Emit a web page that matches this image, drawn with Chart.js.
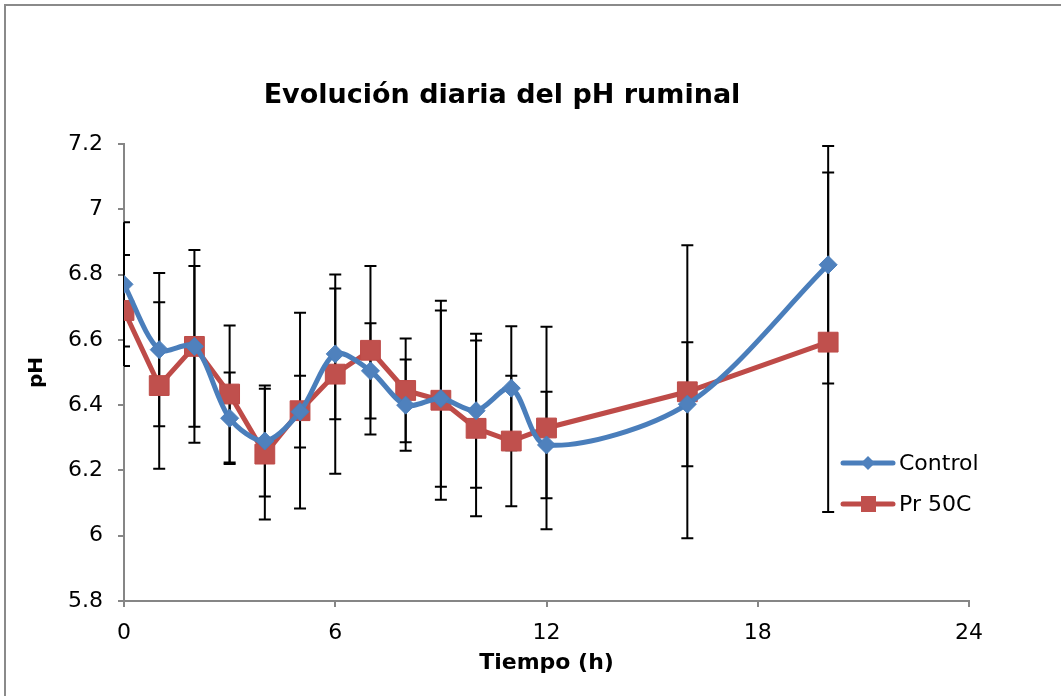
<!DOCTYPE html>
<html>
<head>
<meta charset="utf-8">
<title>pH ruminal</title>
<script src="https://cdn.jsdelivr.net/npm/chart.js@4/dist/chart.umd.min.js"></script>
<style>
  html, body { margin: 0; padding: 0; background: #fff; }
</style>
</head>
<body>
<canvas id="ph-chart" width="1061" height="696"></canvas>
<script>
// hours after feeding
const hours = [0, 1, 2, 3, 4, 5, 6, 7, 8, 9, 10, 11, 12, 16, 20];

// mean ruminal pH per group
const control = [6.77, 6.57, 6.58, 6.36, 6.29, 6.38, 6.557, 6.505, 6.40, 6.42, 6.383, 6.452, 6.278, 6.403, 6.83];
const pr50c = [6.69, 6.46, 6.58, 6.434, 6.25, 6.383, 6.495, 6.568, 6.445, 6.415, 6.329, 6.29, 6.33, 6.441, 6.593];

// standard deviation (error bars)
const controlSd = [0.19, 0.235, 0.295, 0.14, 0.17, 0.11, 0.20, 0.146, 0.14, 0.27, 0.236, 0.19, 0.163, 0.19, 0.364];
const pr50cSd = [0.17, 0.255, 0.246, 0.21, 0.20, 0.30, 0.305, 0.258, 0.159, 0.305, 0.269, 0.20, 0.31, 0.449, 0.52];

const xTicks = [0, 6, 12, 18, 24];
const yTicks = [5.8, 6, 6.2, 6.4, 6.6, 6.8, 7, 7.2];

const FONT = "'DejaVu Sans', Verdana, sans-serif";
const AXIS_GREY = '#868686';

const blue = { line: '#4A7EBB', fill: '#4F81BD' };
const red = { line: '#BE4B48', fill: '#C0504D' };

const toPoints = (ys) => ys.map((y, i) => ({ x: hours[i], y: y }));

// black error bars under the series, kept inside the plot area
const errorBars = {
  id: 'errorBars',
  beforeDatasetsDraw(chart) {
    const { ctx, chartArea, scales: { x, y } } = chart;
    const sets = [controlSd, pr50cSd];
    ctx.save();
    ctx.strokeStyle = '#000';
    ctx.lineWidth = 2;
    chart.data.datasets.forEach((ds, k) => {
      ds.data.forEach((p, i) => {
        const sd = sets[k][i];
        const px = x.getPixelForValue(p.x);
        const top = y.getPixelForValue(p.y + sd);
        const bot = y.getPixelForValue(p.y - sd);
        const l = Math.max(px - 6, chartArea.left);
        const r = Math.min(px + 6, chartArea.right);
        ctx.beginPath();
        ctx.moveTo(px, top); ctx.lineTo(px, bot);
        ctx.moveTo(l, top); ctx.lineTo(r, top);
        ctx.moveTo(l, bot); ctx.lineTo(r, bot);
        ctx.stroke();
      });
    });
    ctx.restore();
  }
};

// outer frame, title and legend
const decorations = {
  id: 'decorations',
  afterDraw(chart) {
    const { ctx } = chart;
    ctx.save();
    ctx.strokeStyle = '#8a8a8a';
    ctx.lineWidth = 2;
    ctx.beginPath();
    ctx.moveTo(5, 700); ctx.lineTo(5, 5); ctx.lineTo(1070, 5);
    ctx.stroke();

    ctx.fillStyle = '#000';
    ctx.font = 'bold 27px ' + FONT;
    ctx.textAlign = 'center';
    ctx.textBaseline = 'middle';
    ctx.fillText('Evolución diaria del pH ruminal', 502, 96);

    const items = [
      { label: 'Control', c: blue, shape: 'diamond', y: 463 },
      { label: 'Pr 50C', c: red, shape: 'square', y: 504 }
    ];
    ctx.font = '22px ' + FONT;
    ctx.textAlign = 'left';
    items.forEach(it => {
      ctx.strokeStyle = it.c.line;
      ctx.lineWidth = 5;
      ctx.lineCap = 'round';
      ctx.beginPath();
      ctx.moveTo(843, it.y); ctx.lineTo(893, it.y);
      ctx.stroke();
      ctx.fillStyle = it.c.fill;
      ctx.beginPath();
      if (it.shape === 'diamond') {
        ctx.moveTo(868, it.y - 7); ctx.lineTo(875, it.y);
        ctx.lineTo(868, it.y + 7); ctx.lineTo(861, it.y);
        ctx.closePath();
      } else {
        ctx.rect(861, it.y - 8, 15, 16);
      }
      ctx.fill();
      ctx.fillStyle = '#000';
      ctx.fillText(it.label, 899, it.y + 1);
    });
    ctx.restore();
  }
};

new Chart(document.getElementById('ph-chart'), {
  type: 'line',
  data: {
    datasets: [
      {
        label: 'Control',
        data: toPoints(control),
        borderColor: blue.line,
        backgroundColor: blue.fill,
        borderWidth: 5,
        tension: 0.3,
        pointStyle: 'rectRot',
        pointRadius: 9,
        pointBorderWidth: 1,
        pointBorderColor: blue.line,
        pointBackgroundColor: blue.fill
      },
      {
        label: 'Pr 50C',
        data: toPoints(pr50c),
        borderColor: red.line,
        backgroundColor: red.fill,
        borderWidth: 5,
        tension: 0,
        pointStyle: 'rect',
        pointRadius: 14,
        pointBorderWidth: 1,
        pointBorderColor: red.line,
        pointBackgroundColor: red.fill
      }
    ]
  },
  options: {
    responsive: false,
    animation: false,
    layout: { padding: { left: 5, right: 92, top: 144, bottom: 0 } },
    plugins: {
      legend: { display: false },
      title: { display: false },
      tooltip: { enabled: false }
    },
    scales: {
      x: {
        type: 'linear',
        min: 0,
        max: 24,
        afterBuildTicks: (s) => { s.ticks = xTicks.map(v => ({ value: v })); },
        afterFit: (s) => { s.height = 95; },
        border: { display: true, color: AXIS_GREY, width: 2 },
        grid: { drawOnChartArea: false, color: AXIS_GREY, lineWidth: 2, tickLength: 6 },
        ticks: { color: '#000', font: { family: FONT, size: 22 }, padding: 13, maxRotation: 0, callback: (v) => String(v) },
        title: { display: true, text: 'Tiempo (h)', color: '#000', font: { family: FONT, size: 22, weight: 'bold' }, padding: { top: 0, bottom: 20 } }
      },
      y: {
        type: 'linear',
        min: 5.8,
        max: 7.2,
        afterBuildTicks: (s) => { s.ticks = yTicks.map(v => ({ value: v })); },
        afterFit: (s) => { s.width = 119; },
        border: { display: true, color: AXIS_GREY, width: 2 },
        grid: { drawOnChartArea: false, color: AXIS_GREY, lineWidth: 2, tickLength: 6 },
        ticks: { color: '#000', font: { family: FONT, size: 22 }, padding: 15, callback: (v) => String(v) },
        title: { display: true, text: 'pH', color: '#000', font: { family: FONT, size: 20, weight: 'bold' }, padding: { top: 20, bottom: 0 } }
      }
    }
  },
  plugins: [errorBars, decorations]
});
</script>
</body>
</html>
